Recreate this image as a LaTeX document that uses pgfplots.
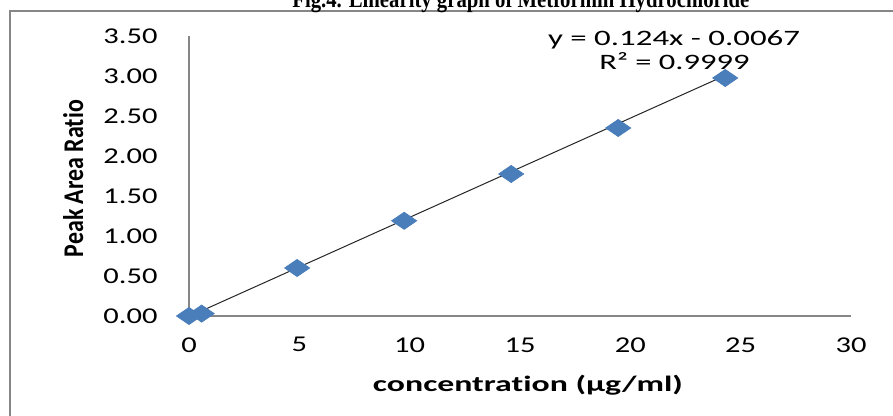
\documentclass[border=0pt]{standalone}
\usepackage{graphicx}
\usepackage{fontspec}
\usepackage{pgfplots}
\pgfplotsset{compat=1.18}
\setmainfont{Carlito}[Ligatures=NoCommon]
\newfontfamily\tickfont{Carlito}[FakeStretch=1.35]
\newfontfamily\titlefont{Liberation Serif}
\definecolor{markblue}{RGB}{74,126,187}
\definecolor{axisgray}{RGB}{134,134,134}

\begin{document}
\begin{tikzpicture}
% page = 893x416 px at 0.5pt per px
\useasboundingbox (0,0) rectangle (446.5pt,208pt);
\clip (0,0) rectangle (446.5pt,208pt);
\fill[white] (0,0) rectangle (446.5pt,208pt);
\draw[axisgray, line width=1pt] (5pt,-10pt) rectangle (470pt,202.5pt);
\begin{axis}[
    at={(94.5pt,50pt)}, anchor=south west,
    scale only axis, width=331pt, height=140pt,
    xmin=0, xmax=30, ymin=0, ymax=3.5,
    axis x line=bottom, axis y line=left,
    axis line style={-, axisgray, line width=0.6pt},
    xtick={0,5,...,30},
    ytick={0,0.5,1,1.5,2,2.5,3,3.5},
    major tick length=0pt,
    tick label style={font=\fontsize{11.3}{12}\tickfont},
    /pgf/number format/assume math mode=true,
    yticklabel style={/pgf/number format/fixed, /pgf/number format/fixed zerofill,
        /pgf/number format/precision=2, anchor=east, xshift=-12.2pt},
    xticklabel style={anchor=north, yshift=-7.2pt},
    clip=false,
    xlabel={\resizebox{155pt}{\height}{\fontsize{11}{12}\selectfont\bfseries concentration (µg/ml)}},
    xlabel style={at={(axis description cs:0.512,-0.2714)}, anchor=base},
    ylabel={\resizebox{78.5pt}{10pt}{\fontsize{12}{13}\selectfont\bfseries Peak Area Ratio}},
    ylabel style={at={(axis description cs:-0.160,0.491)}, anchor=base},
]

% calibration points
\addplot[only marks, mark=diamond*, mark size=4.25pt,
    mark options={xscale=1.96, fill=markblue, draw=markblue}] coordinates {
    (0,0) (0.575,0.03) (4.9,0.60) (9.75,1.19) (14.6,1.775) (19.45,2.35) (24.3,2.975)
};

% linear trendline
\addplot[black!85, line width=0.5pt] coordinates {(0,-0.0067) (24.3,3.0065)};

\node[anchor=base] at (axis cs:21.98,3.375)
    {\resizebox{126pt}{\height}{\fontsize{11}{12}\selectfont y = 0.124x - 0.0067}};
\node[anchor=base] at (axis cs:22.0,3.075)
    {\resizebox{75pt}{\height}{\fontsize{11}{12}\selectfont R² = 0.9999}};

% document caption, cut off by the page edge
\node[anchor=base] at (axis cs:15.04,3.85)
    {\resizebox{228.5pt}{\height}{\fontsize{12}{14}\titlefont\bfseries Fig.4. Linearity graph of Metformin Hydrochloride}};
\end{axis}
\end{tikzpicture}
\end{document}
